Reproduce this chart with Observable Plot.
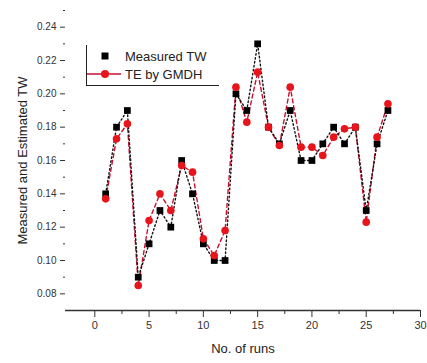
<!DOCTYPE html>
<html><head><meta charset="utf-8">
<script src="https://cdn.jsdelivr.net/npm/d3@7"></script>
<script src="https://cdn.jsdelivr.net/npm/@observablehq/plot@0.6"></script>
<style>
body{margin:0;background:#fff;font-family:"Liberation Sans",Arial,sans-serif;}
#wrap{position:relative;width:427px;height:363px;}
#legend{position:absolute;left:86px;top:45px;width:132px;height:40px;border-left:1.2px solid #222;border-bottom:1.2px solid #222;font-size:13px;color:#222;}
#legend .row{position:absolute;left:0;height:18px;display:flex;align-items:center;}
</style></head>
<body><div id="wrap"><div id="chart"></div>
<div id="legend">
<div class="row" style="top:2px"><svg width="38" height="18"><rect x="14.5" y="5.5" width="7" height="7" fill="#000"/></svg><span>Measured TW</span></div>
<div class="row" style="top:20px"><svg width="38" height="18"><line x1="0" x2="34" y1="9" y2="9" stroke="#c8102e" stroke-width="1.5"/><circle cx="18" cy="9" r="4" fill="#e8141c"/></svg><span>TE by GMDH</span></div>
</div></div>
<script>
const runs = [1,2,3,4,5,6,7,8,9,10,11,12,13,14,15,16,17,18,19,20,21,22,23,24,25,26,27];
const measured = [0.14,0.18,0.19,0.09,0.11,0.13,0.12,0.16,0.14,0.11,0.10,0.10,0.20,0.19,0.23,0.18,0.17,0.19,0.16,0.16,0.17,0.18,0.17,0.18,0.13,0.17,0.19];
const gmdh = [0.137,0.173,0.182,0.085,0.124,0.140,0.130,0.157,0.153,0.113,0.103,0.118,0.204,0.183,0.213,0.180,0.169,0.204,0.168,0.168,0.163,0.174,0.179,0.180,0.123,0.174,0.194];
const xMajor = [0,5,10,15,20,25,30];
const xMinor = [2.5,7.5,12.5,17.5,22.5,27.5];
const yMajor = [0.08,0.10,0.12,0.14,0.16,0.18,0.20,0.22,0.24];
const yMinor = [0.09,0.11,0.13,0.15,0.17,0.19,0.21,0.23,0.25];

const mData = runs.map((r,i)=>({run:r, v:measured[i]}));
const gData = runs.map((r,i)=>({run:r, v:gmdh[i]}));

const chart = Plot.plot({
  width:427, height:363,
  marginLeft:65, marginRight:7, marginTop:10, marginBottom:53,
  style:{fontFamily:"Liberation Sans, Arial, sans-serif", fontSize:"10px", color:"#333", background:"#fff"},
  x:{domain:[-2.7,30]},
  y:{domain:[0.07,0.25]},
  marks:[
    Plot.ruleY([0.07],{stroke:"#333", strokeWidth:1.3}),
    Plot.axisX(xMajor,{tickSize:7, tickPadding:4, fontSize:11, stroke:"#333", label:null}),
    Plot.axisX(xMinor,{tickSize:4, text:null, stroke:"#333", label:null}),
    Plot.axisY(yMajor,{tickSize:5, tickPadding:4, fontSize:10, stroke:"#333", tickFormat:d3.format(".2f"), label:null}),
    Plot.axisY(yMinor,{tickSize:2, text:null, stroke:"#333", label:null}),
    Plot.text(["No. of runs"],{frameAnchor:"bottom", dy:42, fontSize:13, fill:"#222"}),
    Plot.text(["Measured and Estimated TW"],{frameAnchor:"left", dx:-43, rotate:-90, textAnchor:"middle", fontSize:13, fill:"#222"}),
    Plot.line(gData,{x:"run", y:"v", stroke:"#c8102e", strokeWidth:1.4, strokeDasharray:"4,3"}),
    Plot.line(mData,{x:"run", y:"v", stroke:"#111", strokeWidth:1.4, strokeDasharray:"1.5,2.5"}),
    Plot.dot(mData,{x:"run", y:"v", symbol:"square", r:3.8, fill:"#000"}),
    Plot.dot(gData,{x:"run", y:"v", r:3.8, fill:"#e8141c"})
  ]
});
document.getElementById("chart").appendChild(chart);
</script></body></html>
